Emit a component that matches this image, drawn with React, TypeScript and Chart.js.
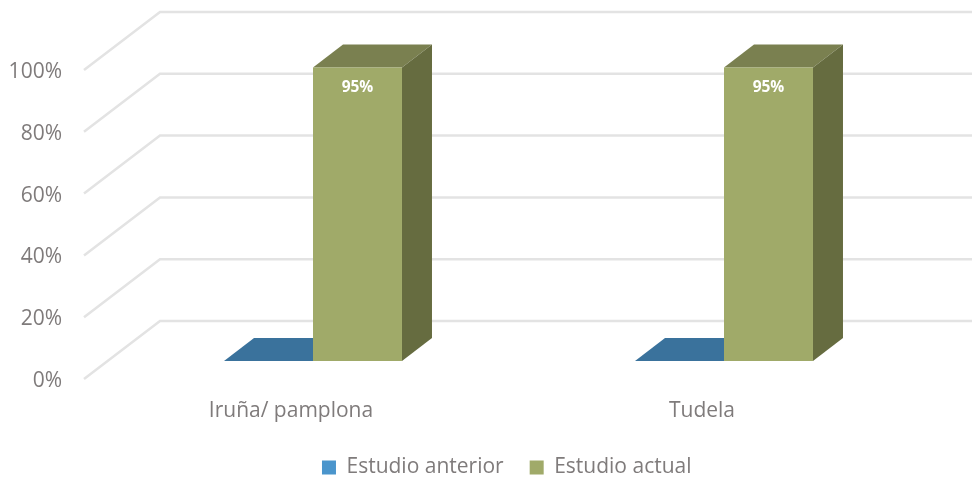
import React, { useEffect, useRef } from "react";
import { Chart, registerables } from "chart.js";

Chart.register(...registerables);

const categories = ["Iruña/ pamplona", "Tudela"];
const estudioAnterior = [0, 0];
const estudioActual = [95, 95];
const yTicks = [0, 20, 40, 60, 80, 100];

const FONT = "'Open Sans', sans-serif";
const TEXT = "#7f7b7b";
const GRID = "#e3e3e3";
const BAR_DX = 30;
const BAR_DY = 23;

const depthColors = [
  { top: "#3a729c", side: "#2f5d80" },
  { top: "#7a8050", side: "#666c40" },
];

const poly = (ctx: CanvasRenderingContext2D, pts: number[][], fill: string) => {
  ctx.beginPath();
  pts.forEach(([x, y], i) => (i ? ctx.lineTo(x, y) : ctx.moveTo(x, y)));
  ctx.closePath();
  ctx.fillStyle = fill;
  ctx.fill();
};

const bar3d = {
  id: "bar3d",
  afterLayout(chart: any) {
    chart.legend.left += 84;
  },
  beforeDatasetsDraw(chart: any) {
    const { ctx, scales } = chart;
    const y = scales.y;
    ctx.save();
    ctx.strokeStyle = GRID;
    ctx.lineWidth = 2.5;
    yTicks.forEach((t) => {
      const py = y.getPixelForValue(t);
      ctx.beginPath();
      ctx.moveTo(84, py + 18);
      ctx.lineTo(160, py - 40);
      ctx.lineTo(chart.width, py - 40);
      ctx.stroke();
    });
    chart.data.datasets.forEach((_: any, d: number) => {
      const colors = depthColors[d];
      chart.getDatasetMeta(d).data.forEach((el: any) => {
        const p = el.getProps(["x", "y", "base", "width"], true);
        const l = p.x - p.width / 2;
        const r = p.x + p.width / 2;
        poly(ctx, [[l, p.y], [l + BAR_DX, p.y - BAR_DY], [r + BAR_DX, p.y - BAR_DY], [r, p.y]], colors.top);
        if (p.base - p.y > 0.5) {
          poly(ctx, [[r, p.y], [r + BAR_DX, p.y - BAR_DY], [r + BAR_DX, p.base - BAR_DY], [r, p.base]], colors.side);
        }
      });
    });
    ctx.restore();
  },
  afterDatasetsDraw(chart: any) {
    const { ctx } = chart;
    ctx.save();
    ctx.font = `bold 15.5px ${FONT}`;
    ctx.fillStyle = "#ffffff";
    ctx.textAlign = "center";
    ctx.textBaseline = "middle";
    chart.getDatasetMeta(1).data.forEach((el: any, i: number) => {
      const p = el.getProps(["x", "y"], true);
      ctx.fillText(`${estudioActual[i]}%`, p.x, p.y + 20);
    });
    ctx.restore();
  },
};

export default function App() {
  const ref = useRef<HTMLCanvasElement>(null);
  useEffect(() => {
    document.body.style.margin = "0";
    const chart = new Chart(ref.current!, {
      type: "bar",
      data: {
        labels: categories,
        datasets: [
          { label: "Estudio anterior", data: estudioAnterior, backgroundColor: "#4a95cc" },
          { label: "Estudio actual", data: estudioActual, backgroundColor: "#a0aa69" },
        ],
      },
      plugins: [bar3d],
      options: {
        animation: false,
        responsive: false,
        layout: { padding: { top: 52, right: 42.5, left: 0, bottom: -11 } },
        datasets: { bar: { categoryPercentage: 0.433, barPercentage: 1 } },
        scales: {
          x: {
            grid: { display: false },
            border: { display: false },
            ticks: {
              color: TEXT,
              font: { family: FONT, size: 21 },
              labelOffset: -22,
              padding: 29,
              maxRotation: 0,
            },
            afterFit: (s: any) => {
              s.height = 70;
            },
          },
          y: {
            min: 0,
            max: 100,
            grid: { display: false, drawTicks: false },
            border: { display: false },
            ticks: {
              stepSize: 20,
              color: TEXT,
              font: { family: FONT, size: 21 },
              padding: 45.5,
              labelOffset: 20,
              callback: (v: any) => `${v}%`,
            },
            afterFit: (s: any) => {
              s.width = 107.5;
              s.paddingTop = 0;
            },
          },
        },
        plugins: {
          tooltip: { enabled: false },
          legend: {
            position: "bottom",
            labels: {
              color: TEXT,
              font: { family: FONT, size: 21 },
              boxWidth: 14,
              boxHeight: 14,
              padding: 26,
            },
          },
        },
      },
    } as any);
    return () => chart.destroy();
  }, []);
  return (
    <div style={{ width: 972, height: 477 }}>
      <canvas ref={ref} width={972} height={477} style={{ display: "block" }} />
    </div>
  );
}
